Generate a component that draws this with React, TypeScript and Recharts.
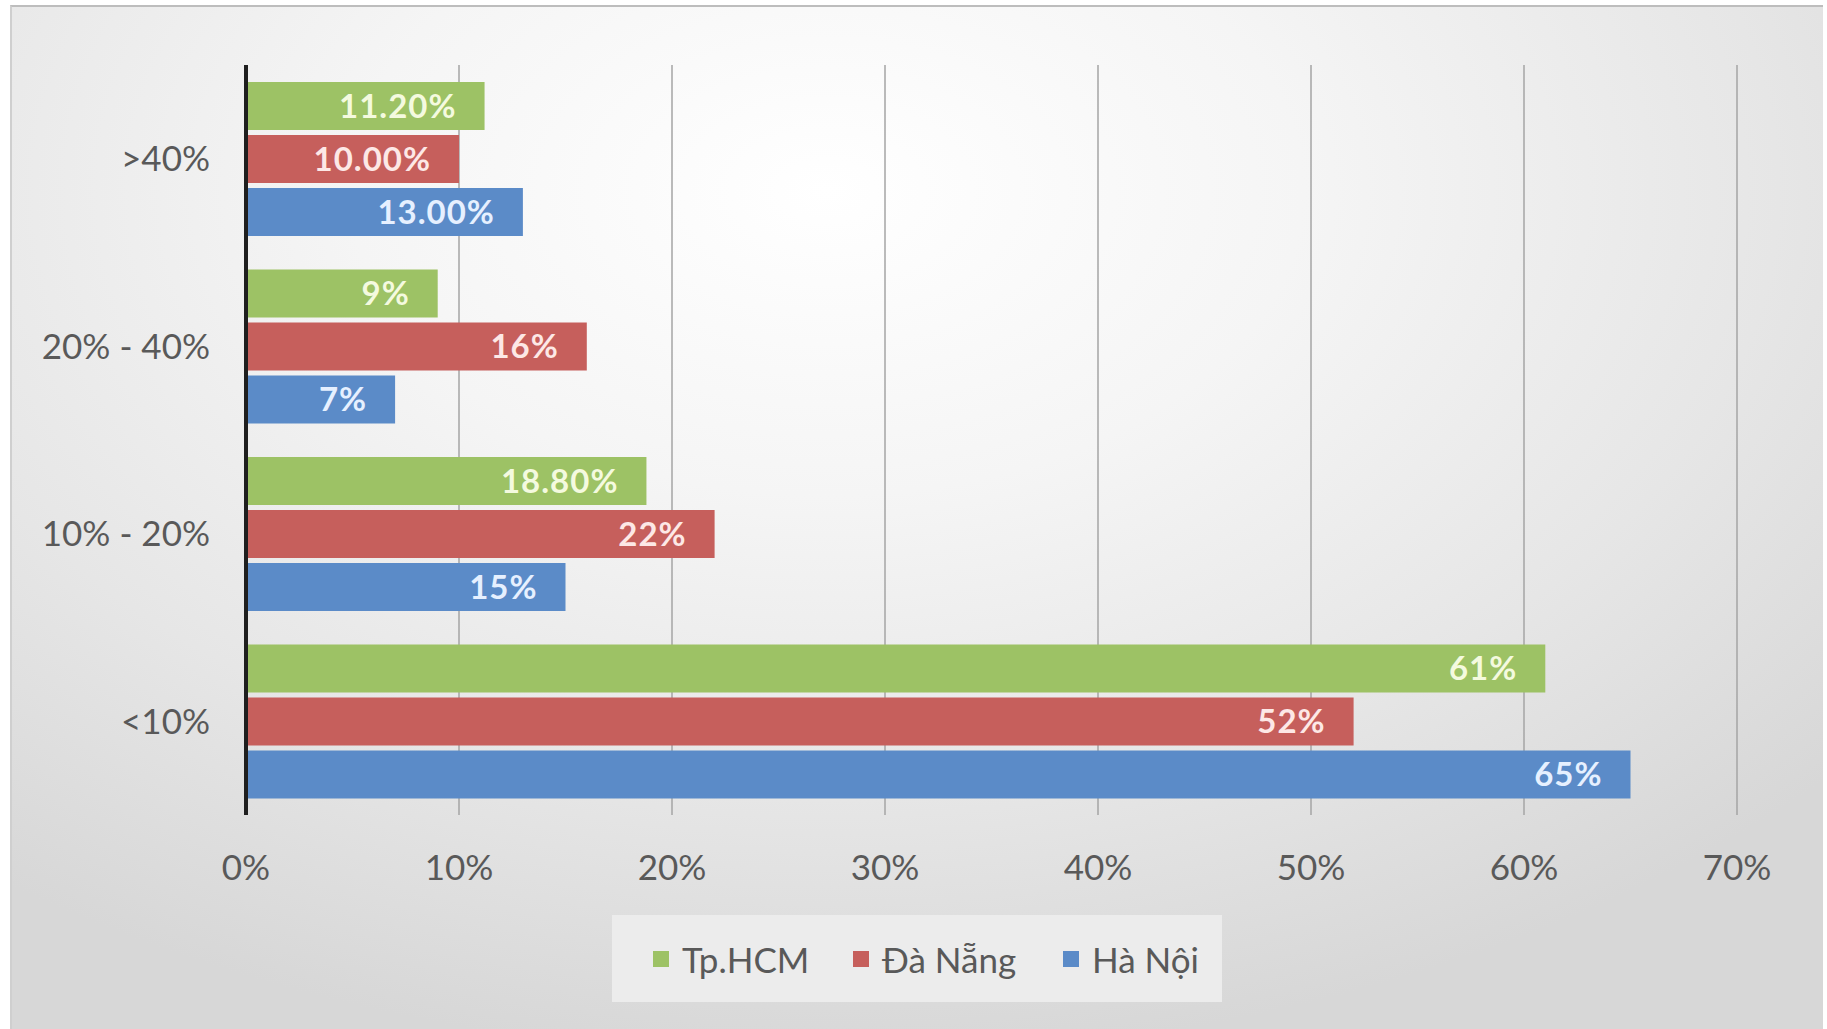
import {
  BarChart,
  Bar,
  XAxis,
  YAxis,
  CartesianGrid,
  Legend,
  LabelList,
} from 'recharts'

// categories top to bottom
const categories = ['>40%', '20% - 40%', '10% - 20%', '<10%']

const hcmValues = [11.2, 9, 18.8, 61]
const dnValues = [10, 16, 22, 52]
const hnValues = [13, 7, 15, 65]

const hcmLabels = ['11.20%', '9%', '18.80%', '61%']
const dnLabels = ['10.00%', '16%', '22%', '52%']
const hnLabels = ['13.00%', '7%', '15%', '65%']

const xTicks = [0, 10, 20, 30, 40, 50, 60, 70]

const series = [
  { key: 'hcm', label: 'hcmLabel', name: 'Tp.HCM', color: '#9dc265', text: '#f4fadf' },
  { key: 'dn', label: 'dnLabel', name: 'Đà Nẵng', color: '#c65f5c', text: '#fde8e6' },
  { key: 'hn', label: 'hnLabel', name: 'Hà Nội', color: '#5b8bc8', text: '#e6f0ff' },
]

const data = categories.map((name, i) => ({
  name,
  hcm: hcmValues[i],
  dn: dnValues[i],
  hn: hnValues[i],
  hcmLabel: hcmLabels[i],
  dnLabel: dnLabels[i],
  hnLabel: hnLabels[i],
}))

const FONT = 'Lato, "Open Sans", sans-serif'

// left offset of each legend entry inside the legend box
const legendOffsets = [41, 241, 451]

const LegendBox = () => (
  <div
    style={{
      position: 'relative',
      width: 610,
      height: 87,
      marginLeft: 600,
      background: '#ececec',
      fontFamily: FONT,
      fontSize: 35,
      color: '#595959',
    }}
  >
    {series.map((s, i) => (
      <div
        key={s.key}
        style={{
          position: 'absolute',
          left: legendOffsets[i],
          top: 0,
          height: 87,
          display: 'flex',
          alignItems: 'center',
          whiteSpace: 'nowrap',
        }}
      >
        <span style={{ width: 16, height: 16, background: s.color, marginRight: 13, display: 'inline-block' }} />
        <span>{s.name}</span>
      </div>
    ))}
  </div>
)

export default function App() {
  return (
    <div style={{ position: 'absolute', left: 0, top: 0, width: 1827, height: 1029, background: '#fff' }}>
      <div
        style={{
          position: 'absolute',
          left: 10,
          top: 5,
          width: 1813,
          height: 1024,
          borderTop: '2px solid #bdbdbd',
          borderLeft: '2px solid #cfcfcf',
          boxSizing: 'border-box',
          background:
            'radial-gradient(ellipse 75% 85% at 45% 18%, #ffffff 0%, #f5f5f5 35%, #e6e6e6 70%, #d7d7d7 100%)',
        }}
      >
        <BarChart
          width={1809}
          height={1020}
          data={data}
          layout="vertical"
          margin={{ top: 58, right: 84, left: 0, bottom: 25 }}
          barCategoryGap="9%"
          barGap={5}
        >
          <CartesianGrid horizontal={false} stroke="#a4a4a4" strokeWidth={1.5} />
          <XAxis
            type="number"
            domain={[0, 70]}
            ticks={xTicks}
            tickFormatter={(v) => `${v}%`}
            axisLine={false}
            tickLine={false}
            tickSize={0}
            tickMargin={40}
            height={100}
            tick={{ fill: '#595959', fontSize: 35, fontFamily: FONT }}
          />
          <YAxis
            type="category"
            dataKey="name"
            width={234}
            axisLine={{ stroke: '#1f1f1f', strokeWidth: 4 }}
            tickLine={false}
            tickSize={0}
            tickMargin={36}
            tick={{ fill: '#595959', fontSize: 35, fontFamily: FONT }}
          />
          <Legend verticalAlign="bottom" align="center" content={() => <LegendBox />} />
          {series.map((s) => (
            <Bar key={s.key} dataKey={s.key} name={s.name} fill={s.color} isAnimationActive={false}>
              <LabelList
                dataKey={s.label}
                position="insideRight"
                offset={28}
                fill={s.text}
                style={{ fontFamily: FONT, fontSize: 33, fontWeight: 700, letterSpacing: 1 }}
              />
            </Bar>
          ))}
        </BarChart>
      </div>
    </div>
  )
}
